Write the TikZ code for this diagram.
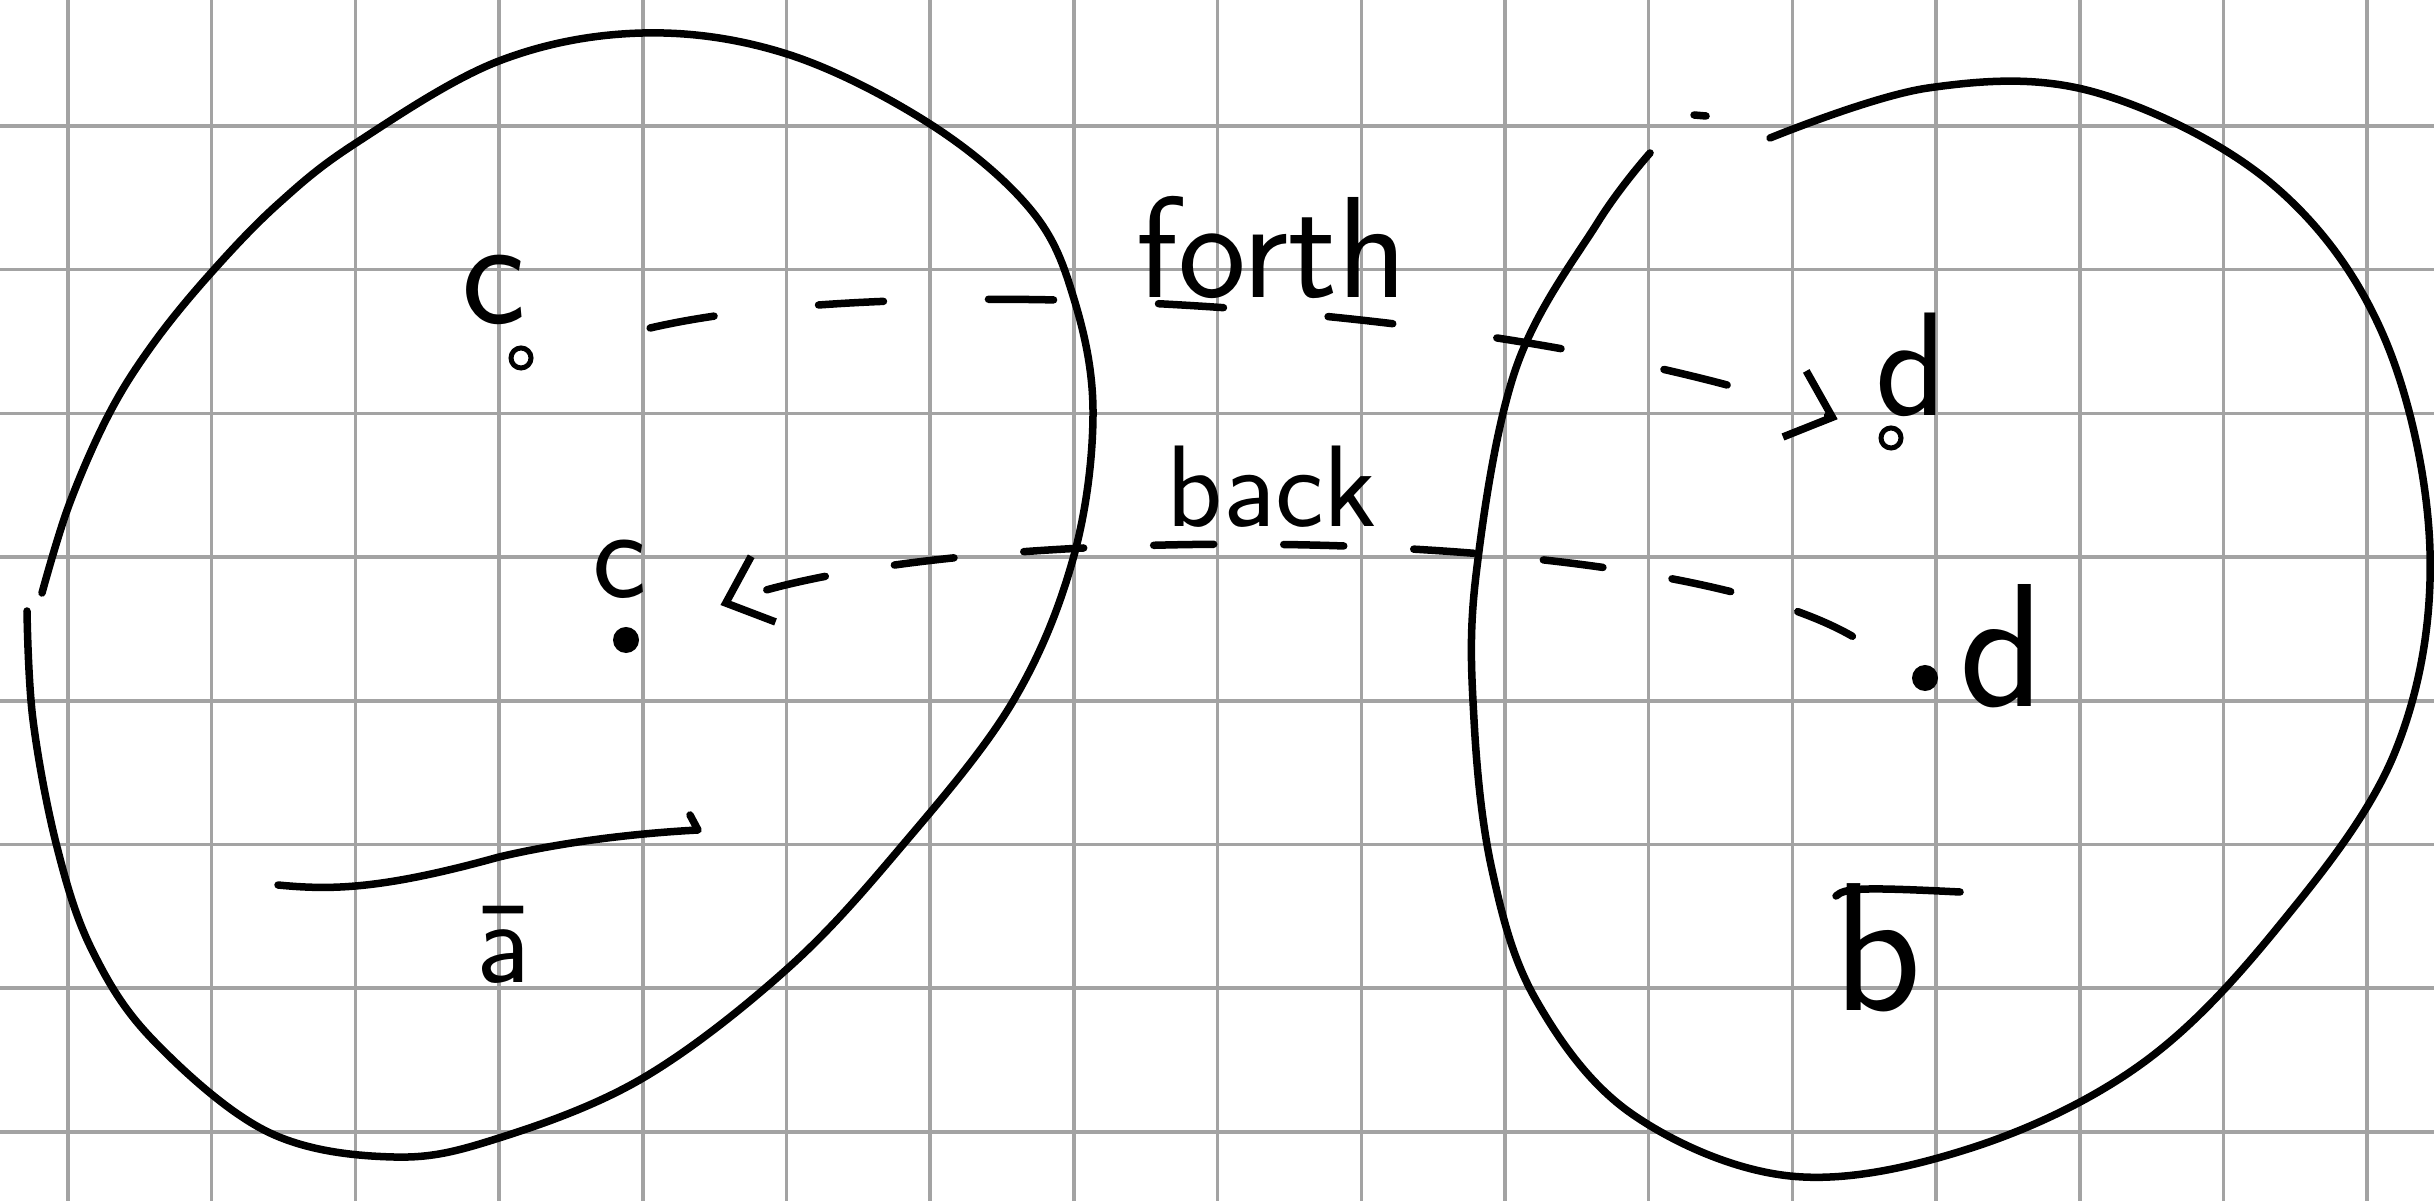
\documentclass[tikz,border=0pt]{standalone}
\usetikzlibrary{arrows.meta}
\definecolor{gridgray}{HTML}{A3A3A3}
\begin{document}
\begin{tikzpicture}[x=0.01cm, y=-0.01cm,
  ink/.style={line width=0.075cm, line cap=round, line join=round, black},
  gridline/.style={line width=0.035cm, gridgray},
  opendot/.style={circle, draw, line width=0.05cm, minimum size=0.2cm, inner sep=0pt},
  filldot/.style={circle, fill, minimum size=0.26cm, inner sep=0pt},
  lbl/.style={font=\sffamily, inner sep=0pt},
  dashlink/.style={ink, -{Straight Barb[length=0.4cm,width=0.7cm]}},
]
\useasboundingbox (0,0) rectangle (2434,1201);
\fill[white] (0,0) rectangle (2434,1201);
% grid
\foreach \k in {0,...,16} \draw[gridline] ({68+143.7*\k},0) -- ({68+143.7*\k},1201);
\foreach \k in {0,...,7} \draw[gridline] (0,{126+143.7*\k}) -- (2434,{126+143.7*\k});

% left blob
\draw[ink] plot[smooth, tension=0.6] coordinates {(42,593) (69,505) (109,414) (153,344) (210,274) (278,204) (356,143) (499,61) (643,33) (787,54) (930,124) (1031,210) (1074,299) (1093,414) (1073,559) (1012,703) (901,847) (787,969) (643,1078) (499,1138) (394,1157) (268,1132) (153,1040) (92,950) (57,847) (33,720) (27,611)};
% right blob
\draw[ink] plot[smooth, tension=0.6] coordinates {(1770,138) (1928,88) (2094,92) (2272,184) (2384,337) (2430,552) (2395,752) (2278,927) (2140,1065) (1968,1149) (1790,1176) (1632,1114) (1536,1000) (1492,870) (1474,720) (1476,575) (1516,368) (1598,222) (1650,153)};
\draw[ink] (1694,115) -- (1706,116);

% points
\node[opendot] (c1) at (521,358) {};
\node[opendot] (d1) at (1891,438) {};
\node[filldot] (c2) at (626,640) {};
\node[filldot] (d2) at (1925,678) {};

% point labels
\node[lbl, font=\sffamily\fontsize{44}{48}\selectfont] (c1l) at (494,290) {c};
\node[lbl, font=\sffamily\fontsize{42}{46}\selectfont] (d1l) at (1911,365) {d};
\node[lbl, font=\sffamily\fontsize{37}{40}\selectfont] (c2l) at (620,569) {c};
\node[lbl, font=\sffamily\fontsize{50}{54}\selectfont] (d2l) at (2002,646) {d};

% words
\node[lbl, font=\sffamily\fontsize{41}{45}\selectfont, anchor=base] (forth) at (1272,298) {forth};
\node[lbl, font=\sffamily\fontsize{33}{36}\selectfont, anchor=base] (back) at (1272,527) {back};

% connectors
\draw[dashlink, dash pattern=on 0.65cm off 1.05cm, shorten <=1.2cm, shorten >=0.44cm]
  (c1) .. controls (900,270) and (1500,300) .. (d1);
\draw[dashlink, dash pattern=on 0.6cm off 0.7cm, shorten <=0.7cm, shorten >=0.87cm]
  (d2) .. controls (1650,520) and (950,520) .. (c2);

% set names
\draw[ink] (278,885) .. controls (330,890) and (380,890) .. (499,857) .. controls (580,838) and (660,832) .. (698,830) -- (690,815);
\node[lbl, font=\sffamily\fontsize{34}{38}\selectfont, anchor=base] (abar) at (503,982) {ā};
\node[lbl, font=\sffamily\fontsize{52}{56}\selectfont, anchor=base] (bname) at (1878,1010) {b};
\draw[ink] (1836,896) .. controls (1845,888) and (1860,887) .. (1960,892);
\end{tikzpicture}
\end{document}
